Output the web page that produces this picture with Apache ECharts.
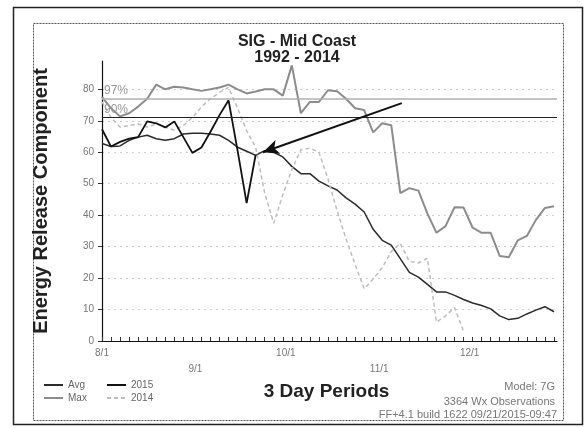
<!DOCTYPE html>
<html>
<head>
<meta charset="utf-8">
<script src="https://cdn.jsdelivr.net/npm/echarts@6/dist/echarts.min.js"></script>
<style>
  html, body { margin: 0; padding: 0; background: #fff; }
  #main { width: 587px; height: 428px; }
</style>
</head>
<body>
<div id="main"></div>
<script>
// 3 day periods, counted in days from 8/1
var days = [0, 3, 6, 9, 12, 15, 18, 21, 24, 27, 30, 33, 36, 39, 42, 45, 48, 51, 54, 57,
  60, 63, 66, 69, 72, 75, 78, 81, 84, 87, 90, 93, 96, 99, 102, 105, 108, 111, 114, 117,
  120, 123, 126, 129, 132, 135, 138, 141, 144, 147, 150];

var monthDays = [0, 31, 61, 92, 122];
var monthLabels = ['8/1', '9/1', '10/1', '11/1', '12/1'];
var yTicks = [0, 10, 20, 30, 40, 50, 60, 70, 80];

var avg = [62.8, 61.8, 62, 63.8, 64.8, 65.4, 64.3, 63.8, 64.3, 65.8, 66, 66, 65.8, 65.4, 63.8,
  61.6, 60.3, 59, 60.5, 60, 58.5, 55.5, 53.2, 53.2, 50.8, 49.3, 48, 45.5, 43.5, 41, 35.5, 32,
  30.5, 26.2, 21.8, 20.3, 18, 15.6, 15.6, 14.5, 13.2, 12.1, 11.3, 10.2, 8, 6.8, 7.2, 8.6, 9.8,
  10.9, 9.3];

var max = [77.5, 74, 71.4, 72.4, 74.5, 77, 81.5, 80, 80.8, 80.6, 80, 79.5, 80, 80.6, 81.5, 80,
  78.7, 79.3, 80, 80, 78, 87.6, 72.4, 76, 76, 79.7, 79.4, 77, 74, 73.4, 66.3, 69.2, 68.6, 47,
  48.6, 47.8, 40.5, 34.4, 36.5, 42.5, 42.4, 36, 34.4, 34.4, 27, 26.6, 32, 33.4, 38.5, 42.3, 42.8];

var y2015 = [67.3, 61.8, 63.3, 64.3, 64.8, 69.8, 69.2, 67.9, 69.8, 64.8, 59.8, 61.5, 66.5, 71.8,
  76.5, 60.5, 43.8, 59.2];

var y2014 = [76, 71, 68, 68.5, 69, 68, 69, 68, 67, 68.5, 71, 74.4, 77, 79, 80.6, 74, 66.8, 61.6,
  47, 37.4, 46.5, 54.5, 60.8, 61.3, 60, 51.5, 41.5, 32.4, 24.3, 16.6, 19.7, 23.3, 28.4, 31, 25.3,
  24.8, 26.3, 6, 8, 10.6, 3];

var p97 = 77;
var p90 = 71;

// annotation arrow (day, value)
var arrowFrom = [99.5, 75.6];
var arrowTo = [53.4, 60];

function pairs(values) {
  return values.map(function (v, i) { return [days[i], v]; });
}

var font = 'Liberation Sans, Arial, sans-serif';
var myChart = echarts.init(document.getElementById('main'));

var legendBase = {
  orient: 'vertical',
  top: 375,
  itemWidth: 19, itemHeight: 10, itemGap: 3,
  itemStyle: { opacity: 0 },
  textStyle: { fontSize: 10, color: '#666', fontFamily: font }
};

var option = {
  animation: false,
  backgroundColor: '#fff',
  textStyle: { fontFamily: font },
  title: {
    text: 'SIG - Mid Coast\n1992 - 2014',
    left: 292,
    textAlign: 'center',
    top: 29,
    textStyle: { fontSize: 16, fontWeight: 'bold', color: '#222', lineHeight: 16, fontFamily: font }
  },
  legend: [
    Object.assign({}, legendBase, { data: ['Avg', 'Max'], left: 38 }),
    Object.assign({}, legendBase, { data: ['2015', '2014'], left: 101 })
  ],
  grid: { left: 102, right: 30, top: 61, bottom: 87 },
  xAxis: {
    type: 'value',
    min: 0, max: 151,
    name: '3 Day Periods',
    nameLocation: 'middle',
    nameGap: 40,
    nameTextStyle: { fontSize: 19, fontWeight: 'bold', color: '#222', fontFamily: font, padding: [0, 6, 0, 0] },
    axisLine: { lineStyle: { color: '#111', width: 1.2 } },
    axisTick: { customValues: days, inside: true, length: 4, lineStyle: { color: '#333' } },
    axisLabel: {
      customValues: monthDays,
      margin: 4,
      fontSize: 10,
      lineHeight: 16,
      color: '#777',
      formatter: function (v) {
        var k = monthDays.indexOf(v);
        if (k < 0) return '';
        return k % 2 === 1 ? '\n' + monthLabels[k] : monthLabels[k];
      }
    },
    splitLine: { show: false }
  },
  yAxis: {
    type: 'value',
    min: 0, max: 89,
    name: 'Energy Release Component',
    nameLocation: 'middle',
    nameGap: 51,
    nameTextStyle: { fontSize: 20, fontWeight: 'bold', color: '#222', fontFamily: font },
    axisLine: { show: true, lineStyle: { color: '#111', width: 1.2 } },
    axisTick: { show: true, customValues: yTicks, length: 4, lineStyle: { color: '#333' } },
    axisLabel: { customValues: yTicks, fontSize: 10, color: '#777', margin: 8 },
    splitLine: { show: true, lineStyle: { color: '#cfcfcf', type: [2, 4] } }
  },
  series: [
    {
      name: 'Avg', type: 'line', symbol: 'none',
      data: pairs(avg),
      lineStyle: { color: '#2b2b2b', width: 1.5 },
      itemStyle: { color: '#2b2b2b' },
      markLine: {
        symbol: 'none', silent: true,
        data: [
          { yAxis: p97, lineStyle: { color: '#b0b0b0', width: 1.5, type: 'solid' },
            label: { show: true, position: 'insideStartTop', formatter: '97%', color: '#999', fontSize: 12, distance: [2, 2] } },
          { yAxis: p90, lineStyle: { color: '#222', width: 1.2, type: 'solid' },
            label: { show: true, position: 'insideStartTop', formatter: '90%', color: '#999', fontSize: 12, distance: [2, 2] } }
        ]
      }
    },
    {
      name: 'Max', type: 'line', symbol: 'none',
      data: pairs(max),
      lineStyle: { color: '#8c8c8c', width: 2 },
      itemStyle: { color: '#8c8c8c' }
    },
    {
      name: '2014', type: 'line', symbol: 'none',
      data: pairs(y2014),
      lineStyle: { color: '#bdbdbd', width: 1.5, type: [4, 3] },
      itemStyle: { color: '#bdbdbd' }
    },
    {
      name: '2015', type: 'line', symbol: 'none',
      data: pairs(y2015),
      lineStyle: { color: '#111', width: 1.8 },
      itemStyle: { color: '#111' },
      markLine: {
        silent: true,
        symbol: ['none', 'arrow'],
        symbolSize: [11, 16],
        label: { show: false },
        lineStyle: { color: '#111', width: 2, type: 'solid' },
        data: [[{ coord: arrowFrom }, { coord: arrowTo }]]
      }
    }
  ],
  graphic: [
    { type: 'rect', shape: { x: 13.5, y: 7.5, width: 569, height: 417 },
      style: { fill: 'none', stroke: '#222', lineWidth: 1.5 }, silent: true },
    { type: 'rect', shape: { x: 33.5, y: 23.5, width: 530, height: 397 },
      style: { fill: 'none', stroke: '#555', lineWidth: 1, lineDash: [2, 1] }, silent: true },
    { type: 'text', right: 32, top: 381,
      style: { text: 'Model: 7G', fill: '#777', font: '11px ' + font, textAlign: 'right' } },
    { type: 'text', right: 32, top: 396,
      style: { text: '3364 Wx Observations', fill: '#777', font: '11px ' + font, textAlign: 'right' } },
    { type: 'text', right: 30, top: 409,
      style: { text: 'FF+4.1 build 1622 09/21/2015-09:47', fill: '#777', font: '11px ' + font, textAlign: 'right' } }
  ]
};

myChart.setOption(option);
</script>
</body>
</html>
